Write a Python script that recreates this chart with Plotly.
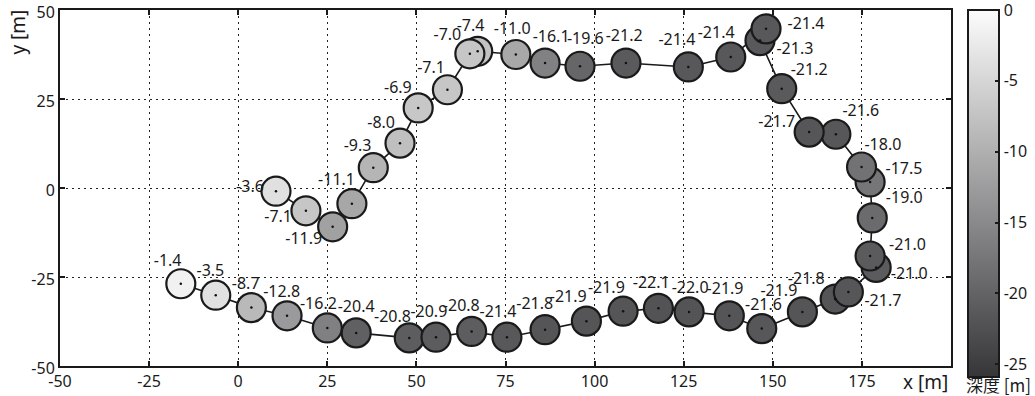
import plotly.graph_objects as go

# ---- data ----
pos_x = [-16.1, -6.3, 3.7, 13.7, 25.0, 33.1, 48.0, 55.5, 65.5, 75.4, 86.1, 97.7, 108.0, 117.9,
         126.5, 137.8, 146.9, 158.3, 167.5, 171.2, 179.0, 177.3, 177.9, 177.3, 174.9, 167.7,
         160.2, 152.5, 146.4, 148.1, 138.2, 126.3, 108.8, 95.9, 86.1, 77.9, 67.2, 65.0, 58.7,
         50.5, 45.4, 37.9, 31.9, 26.5, 19.0, 10.6]
pos_y = [-26.9, -30.1, -33.6, -35.9, -39.3, -40.7, -42.1, -41.9, -40.3, -41.9, -39.8, -37.4,
         -34.6, -33.8, -34.8, -35.9, -39.5, -34.8, -31.2, -29.2, -22.3, -19.1, -8.4, 1.7, 5.9,
         15.1, 15.7, 27.9, 41.4, 44.7, 36.8, 34.0, 35.1, 34.2, 35.1, 37.5, 38.4, 37.7, 27.6,
         22.5, 12.6, 5.7, -4.4, -10.9, -6.4, -0.9]
depth = [-1.4, -3.5, -8.7, -12.8, -16.2, -20.4, -20.8, -20.9, -20.8, -21.4, -21.8, -21.9,
         -21.9, -22.1, -22.0, -21.9, -21.6, -21.9, -21.8, -21.7, -21.0, -21.0, -19.0, -17.5,
         -18.0, -21.6, -21.7, -21.2, -21.3, -21.4, -21.4, -21.4, -21.2, -19.6, -16.1, -11.0,
         -7.4, -7.0, -7.1, -6.9, -8.0, -9.3, -11.1, -11.9, -7.1, -3.6]

x_ticks = [-50, -25, 0, 25, 50, 75, 100, 125, 150, 175]
y_ticks = [-50, -25, 0, 25, 50]
cb_ticks = [0, -5, -10, -15, -20, -25]

# label offsets from each point (data units)
lab_dx = [-3.7, -1.5, -1.6, -1.5, -2.5, 0.0, -4.7, -2.0, -2.9, -2.5, -2.9, -5.1, -4.7, -2.0,
          0.3, -1.2, 0.5, -6.6, -8.1, 9.7, 9.3, 10.5, 9.0, 9.5, 6.0, 7.0, -9.1, 7.7, 9.8, 11.2,
          -4.1, -3.2, -0.5, 1.5, 1.7, -1.0, -2.0, -6.3, -4.6, -5.7, -5.3, -4.4, -4.3, -8.1,
          -7.8, -7.3]
lab_dy = [6.2, 6.6, 6.4, 6.5, 6.4, 7.0, 5.7, 6.9, 6.8, 6.9, 6.9, 6.6, 6.2, 6.8, 6.5, 7.2,
          6.4, 5.5, 5.3, -2.7, -2.2, 2.7, 5.4, 3.4, 6.0, 6.3, 2.6, 5.1, -2.5, 1.1, 6.5, 7.2,
          7.2, 7.4, 7.1, 7.0, 6.8, 4.9, 5.8, 5.3, 5.4, 5.8, 6.4, -3.7, -1.9, 0.8]

FONT = "Noto Sans"
INK = "#1a1a1a"
CMIN, CMAX = -25.9, 0
colorscale = [[0.0, "rgb(54,54,57)"], [1.0, "rgb(252,252,252)"]]

fig = go.Figure()

# track line
fig.add_trace(go.Scatter(x=pos_x, y=pos_y, mode="lines",
                         line=dict(color=INK, width=1.6),
                         hoverinfo="skip", showlegend=False))
# depth circles
fig.add_trace(go.Scatter(
    x=pos_x, y=pos_y, mode="markers", showlegend=False,
    marker=dict(size=29, color=depth, colorscale=colorscale, cmin=CMIN, cmax=CMAX,
                line=dict(color=INK, width=2.2),
                colorbar=dict(
                    x=1.019, xanchor="left", xpad=0, y=1, yanchor="top", ypad=0,
                    len=1.032, lenmode="fraction", thickness=31, thicknessmode="pixels",
                    outlinewidth=2, outlinecolor=INK,
                    ticks="inside", ticklen=5, tickwidth=2, tickcolor=INK,
                    tickvals=cb_ticks, ticktext=[str(v) for v in cb_ticks],
                    ticklabeloverflow="allow",
                    tickfont=dict(family=FONT, size=16, color=INK),
                ))))
# centre dots
fig.add_trace(go.Scatter(x=pos_x, y=pos_y, mode="markers", showlegend=False,
                         marker=dict(size=2.5, color="#111111"), hoverinfo="skip"))
# depth labels
fig.add_trace(go.Scatter(
    x=[a + b for a, b in zip(pos_x, lab_dx)],
    y=[a + b for a, b in zip(pos_y, lab_dy)],
    mode="text", text=[f"{v:.1f}" for v in depth], textposition="middle center",
    textfont=dict(family=FONT, size=16, color=INK),
    showlegend=False, hoverinfo="skip", cliponaxis=False))

axis_common = dict(showline=True, linewidth=2, linecolor=INK, mirror="ticks",
                   ticks="inside", ticklen=5, tickwidth=2, tickcolor=INK,
                   showgrid=True, gridcolor="#222222", gridwidth=1, griddash="2px,4px",
                   zeroline=False, ticklabeloverflow="allow",
                   tickfont=dict(family=FONT, size=16, color=INK))

fig.update_xaxes(range=[-50, 200], tickvals=x_ticks, ticktext=[str(v) for v in x_ticks],
                 **axis_common)
fig.update_yaxes(range=[-50, 50], tickvals=y_ticks, ticktext=[str(v) for v in y_ticks],
                 ticklabelshift=2, **axis_common)

fig.add_annotation(text="x [m]", xref="paper", yref="paper", x=0.971, y=-0.045,
                   showarrow=False, xanchor="center", yanchor="middle",
                   font=dict(family=FONT, size=19, color=INK))
fig.add_annotation(text="y [m]", xref="paper", yref="paper", x=-0.047, y=0.937,
                   showarrow=False, xanchor="center", yanchor="middle", textangle=-90,
                   font=dict(family=FONT, size=19, color=INK))
fig.add_annotation(text="深度 [m]", xref="paper", yref="paper", x=1.053, y=-0.052,
                   showarrow=False, xanchor="center", yanchor="middle",
                   font=dict(family="Noto Sans CJK JP", size=17, color=INK))

fig.update_layout(width=1035, height=396,
                  margin=dict(l=60, r=84, t=9.5, b=30, pad=0, autoexpand=False),
                  paper_bgcolor="white", plot_bgcolor="white")

fig.write_html("out.html", config={"displayModeBar": False},
               post_script="document.body.style.margin='0';document.body.style.overflow='hidden';")
